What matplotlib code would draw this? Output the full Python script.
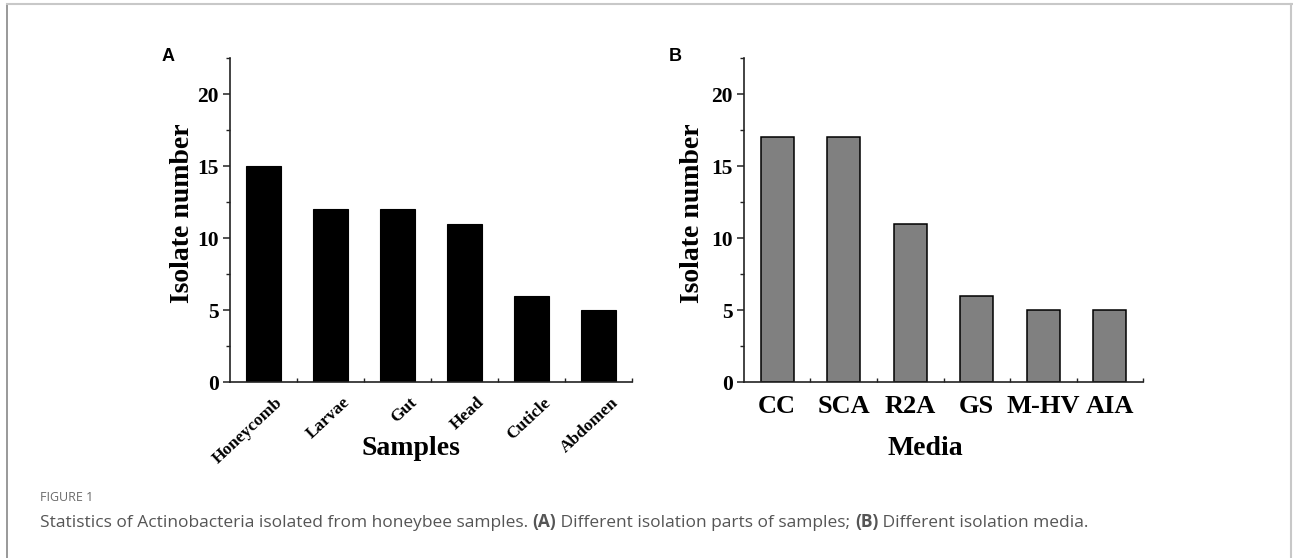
import matplotlib.pyplot as plt
from matplotlib.ticker import MultipleLocator, FixedLocator
from matplotlib.lines import Line2D

samples = ['Honeycomb', 'Larvae', 'Gut', 'Head', 'Cuticle', 'Abdomen']
sample_counts = [15, 12, 12, 11, 6, 5]
media = ['CC', 'SCA', 'R2A', 'GS', 'M-HV', 'AIA']
media_counts = [17, 17, 11, 6, 5, 5]

serif = 'Liberation Serif'

fig = plt.figure(figsize=(12.93, 5.58), dpi=100)

# page border like the journal layout
fig.add_artist(Line2D([0.0054, 0.0054], [0, 0.9928], transform=fig.transFigure, color='#888888', lw=1.2))
fig.add_artist(Line2D([0.0054, 1.0], [0.9928, 0.9928], transform=fig.transFigure, color='#c8c8c8', lw=1.5))
fig.add_artist(Line2D([0.9985, 0.9985], [0, 0.9928], transform=fig.transFigure, color='#c8c8c8', lw=1.5))

axA = fig.add_axes([0.1779, 0.3154, 0.3109, 0.5806])
axB = fig.add_axes([0.5754, 0.3154, 0.3086, 0.5806])


def style(ax, n):
    ax.set_xlim(-0.5, n - 0.5)
    ax.set_ylim(0, 22.5)
    for s in ['top', 'right']:
        ax.spines[s].set_visible(False)
    for s in ['left', 'bottom']:
        ax.spines[s].set_color('#222222')
        ax.spines[s].set_linewidth(1.2)
    ax.yaxis.set_major_locator(MultipleLocator(5))
    ax.yaxis.set_minor_locator(MultipleLocator(2.5))
    ax.xaxis.set_minor_locator(FixedLocator([i + 0.5 for i in range(n)]))
    ax.tick_params(axis='y', which='major', direction='out', length=5, width=1.1, color='#222222', pad=3)
    ax.tick_params(axis='y', which='minor', direction='out', length=3, width=1.0, color='#222222')
    ax.tick_params(axis='x', which='major', length=0)
    ax.tick_params(axis='x', which='minor', direction='in', length=3, width=1.0, color='#222222')
    for lab in ax.get_yticklabels():
        lab.set_fontfamily(serif)
        lab.set_fontweight('bold')
        lab.set_fontsize(15.5)
    ax.set_ylabel('Isolate number', fontfamily=serif, fontweight='bold', fontsize=20, va='center')


x = list(range(len(samples)))
axA.bar(x, sample_counts, width=0.52, color='black', edgecolor='black', linewidth=0.8)
style(axA, len(samples))
axA.set_xticks(x)
axA.set_xticklabels([])
# rotated sample names, anchored at their upper-right end
for i, name in enumerate(samples):
    axA.annotate(name, xy=(i, 0), xycoords=axA.get_xaxis_transform(), xytext=(8.5, -9),
                 textcoords='offset points', rotation=43, ha='right', va='top', rotation_mode='anchor',
                 fontfamily=serif, fontweight='bold', fontsize=12.5)
axA.set_xlabel('Samples', fontfamily=serif, fontweight='bold', fontsize=20, va='center')
axA.xaxis.set_label_coords(0.450, -0.204)
axA.yaxis.set_label_coords(-0.119, 0.52)

x = list(range(len(media)))
axB.bar(x, media_counts, width=0.5, color='#808080', edgecolor='black', linewidth=1.1)
style(axB, len(media))
axB.set_xticks(x)
axB.set_xticklabels(media, fontfamily=serif, fontweight='bold', fontsize=19)
axB.tick_params(axis='x', which='major', pad=9)
axB.set_xlabel('Media', fontfamily=serif, fontweight='bold', fontsize=20, va='center')
axB.xaxis.set_label_coords(0.454, -0.204)
axB.yaxis.set_label_coords(-0.128, 0.52)

fig.text(0.130, 0.898, 'A', fontfamily='Liberation Sans', fontweight='bold', fontsize=13, ha='center', va='center')
fig.text(0.522, 0.898, 'B', fontfamily='Liberation Sans', fontweight='bold', fontsize=13, ha='center', va='center')

# caption
fig.text(0.031, 0.1093, 'FIGURE 1', fontfamily='Open Sans', fontsize=9, color='#6a6a6a', va='center')
cap = [('Statistics of Actinobacteria isolated from honeybee samples. ', 'normal'),
       ('(A)', 'bold'),
       (' Different isolation parts of samples; ', 'normal'),
       ('(B)', 'bold'),
       (' Different isolation media.', 'normal')]
cap_y = 0.056
pieces = []
for txt, w in cap:
    t = fig.text(0.031, cap_y, txt, fontfamily='Open Sans', fontsize=12.5, color='#555555',
                 fontweight=w, va='baseline')
    pieces.append(t)

# place the caption pieces one after another
fig.canvas.draw()
r = fig.canvas.get_renderer()
x0 = pieces[0].get_window_extent(r).x1 / fig.bbox.width
for t in pieces[1:]:
    t.set_position((x0, cap_y))
    x0 = t.get_window_extent(r).x1 / fig.bbox.width

plt.savefig('out.png', dpi=100)
